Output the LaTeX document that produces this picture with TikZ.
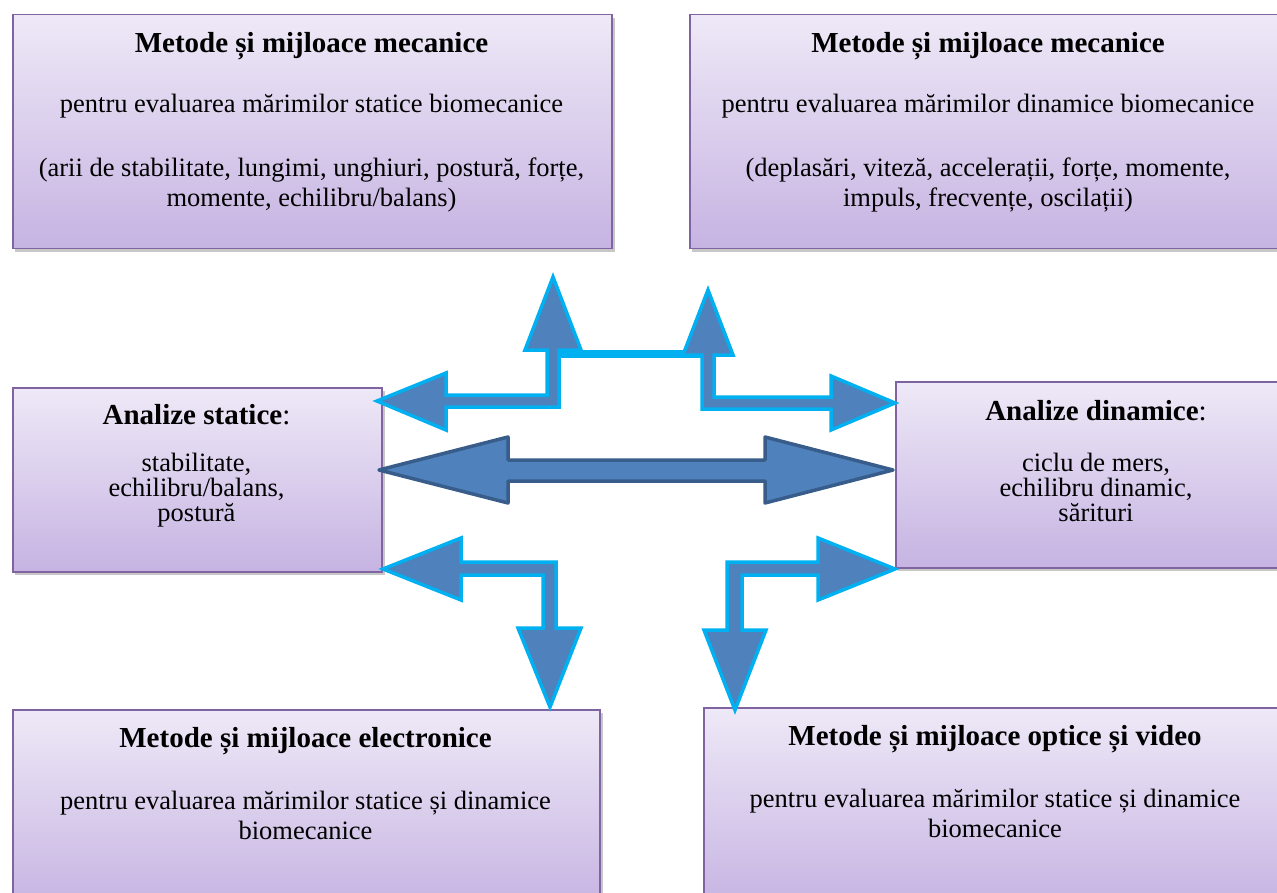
\documentclass[tikz,border=0pt]{standalone}
\usepackage{fontspec}
\setmainfont{LiberationSerif}[Extension=.ttf,UprightFont=*-Regular,BoldFont=*-Bold,ItalicFont=*-Italic,BoldItalicFont=*-BoldItalic]
\begin{document}
\begin{tikzpicture}[x=1pt,y=-1pt,
  box/.style={draw=boxborder,line width=1.5pt,top color=boxtop,bottom color=boxbot,
    minimum width=#1,inner sep=0pt,anchor=north west},
  ttl/.style={anchor=base,font=\fontsize{29}{32}\selectfont\bfseries,inner sep=0pt},
  txt/.style={anchor=base,font=\fontsize{26.5}{30}\selectfont,inner sep=0pt},
  barrow/.style={fill=arrfill,draw=arrcyan,line width=3.5pt,line join=miter},
  darrow/.style={fill=arrfill,draw=arrdark,line width=3.5pt,line join=round}]
\definecolor{boxborder}{HTML}{8064A2}
\definecolor{boxtop}{HTML}{EEE9F7}
\definecolor{boxbot}{HTML}{C6B3E2}
\definecolor{arrfill}{HTML}{4F81BD}
\definecolor{arrcyan}{HTML}{00B0F0}
\definecolor{arrdark}{HTML}{385D8A}
\useasboundingbox (0,0) rectangle (1277,893);
\clip (0,0) rectangle (1277,893);
% shadows
\fill[black!22] (15,18) rectangle (615,252);
\fill[black!22] (692,18) rectangle (1300,252);
\fill[black!22] (15,391) rectangle (385,575);
\fill[black!22] (898,385) rectangle (1300,571);
\fill[black!22] (15,713) rectangle (603,900);
\fill[black!22] (706,711) rectangle (1300,900);
% boxes
\node[box=599pt,minimum height=234pt] (tl) at (12,14) {};
\node[box=598pt,minimum height=234pt] (tr) at (689,14) {};
\node[box=369pt,minimum height=184pt] (ml) at (12,387) {};
\node[box=402pt,minimum height=186pt] (mr) at (895,381) {};
\node[box=587pt,minimum height=200pt] (bl) at (12,709) {};
\node[box=584pt,minimum height=200pt] (br) at (703,707) {};
% texts
\node[ttl] (tl1) at (311.5,53) {Metode și mijloace mecanice};
\node[txt] (tl2) at (311.5,113) {pentru evaluarea mărimilor statice biomecanice};
\node[txt] (tl3) at (311.5,177) {(arii de stabilitate, lungimi, unghiuri, postură, forțe,};
\node[txt] (tl4) at (311.5,207) {momente, echilibru/balans)};
\node[ttl] (tr1) at (988,53) {Metode și mijloace mecanice};
\node[txt] (tr2) at (988,113) {pentru evaluarea mărimilor dinamice biomecanice};
\node[txt] (tr3) at (988,177) {(deplasări, viteză, accelerații, forțe, momente,};
\node[txt] (tr4) at (988,207) {impuls, frecvențe, oscilații)};
\node[ttl] (ml1) at (196.5,424) {Analize statice\mdseries:};
\node[txt] (ml2) at (196.5,471) {stabilitate,};
\node[txt] (ml3) at (196.5,496) {echilibru/balans,};
\node[txt] (ml4) at (196.5,521) {postură};
\node[ttl] (mr1) at (1096,420) {Analize dinamice\mdseries:};
\node[txt] (mr2) at (1096,471) {ciclu de mers,};
\node[txt] (mr3) at (1096,496) {echilibru dinamic,};
\node[txt] (mr4) at (1096,521) {sărituri};
\node[ttl] (bl1) at (305.5,747) {Metode și mijloace electronice};
\node[txt] (bl2) at (305.5,809) {pentru evaluarea mărimilor statice și dinamice};
\node[txt] (bl3) at (305.5,839) {biomecanice};
\node[ttl] (br1) at (995,745) {Metode și mijloace optice și video};
\node[txt] (br2) at (995,807) {pentru evaluarea mărimilor statice și dinamice};
\node[txt] (br3) at (995,837) {biomecanice};
% central double arrow
\draw[darrow] (379,470) -- (508,437) -- (508,460) -- (765,460) -- (765,437)
  -- (893,470) -- (765,503) -- (765,481) -- (508,481) -- (508,503) -- cycle;
% top connector bar
\draw[arrcyan,line width=8pt] (548,354) -- (715,354);
% top-left elbow arrow (up + left)
\draw[barrow] (553,277) -- (581,350) -- (559,350) -- (559,407) -- (446,407) -- (446,430)
  -- (377,401) -- (446,373) -- (446,395) -- (547,395) -- (547,350) -- (525,350) -- cycle;
% top-right elbow arrow (up + right)
\draw[barrow] (708,290) -- (733,355) -- (714,355) -- (714,397) -- (831,397) -- (831,376)
  -- (895,403) -- (831,430) -- (831,409) -- (702,409) -- (702,355) -- (683,355) -- cycle;
% bottom-left elbow arrow (left + down)
\draw[barrow] (383,569) -- (461,538) -- (461,562) -- (556,562) -- (556,628) -- (581,628)
  -- (550,707) -- (518,628) -- (543,628) -- (543,575) -- (461,575) -- (461,600) -- cycle;
% bottom-right elbow arrow (right + down)
\draw[barrow] (895,569) -- (818,538) -- (818,562) -- (727,562) -- (727,630) -- (704,630)
  -- (735,710) -- (766,630) -- (742,630) -- (742,575) -- (818,575) -- (818,600) -- cycle;
\end{tikzpicture}
\end{document}
